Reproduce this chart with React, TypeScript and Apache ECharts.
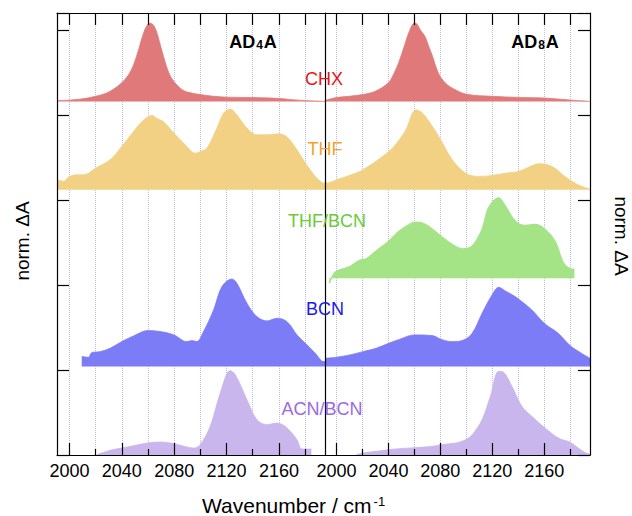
import React, { useEffect, useRef } from "react";
import * as echarts from "echarts";

// ---- data (wavenumber / cm^-1, normalized ΔA above each trace's baseline) ----
const xMajorTicks = [2000, 2040, 2080, 2120, 2160];
const xMinorTicks = [2020, 2060, 2100, 2140, 2180];
const xGridLines = [2000, 2020, 2040, 2060, 2080, 2100, 2120, 2140, 2160, 2180];

const traceNames = ["CHX", "THF", "THF/BCN", "BCN", "ACN/BCN"];
const traceOffsets = [4.16, 3.12, 2.08, 1.04, 0];

// AD4A (left panel)
const chxLeft: [number, number][] = [
  [1990.5, 0.01], [2000, 0.015], [2010, 0.03], [2020, 0.06], [2030, 0.11], [2040, 0.22],
  [2045, 0.31], [2049, 0.43], [2053, 0.62], [2056.5, 0.8], [2059.5, 0.9], [2062, 0.92],
  [2064.5, 0.89], [2067, 0.8], [2070, 0.63], [2074, 0.42], [2077, 0.3], [2080, 0.23],
  [2085, 0.15], [2090, 0.11], [2100, 0.08], [2110, 0.06], [2120, 0.05], [2140, 0.045],
  [2160, 0.035], [2170, 0.02], [2180, 0.01], [2195.5, 0.0],
];
const thfLeft: [number, number][] = [
  [1990.5, 0.12], [1995.4, 0.1], [2000, 0.157], [2005.6, 0.176], [2010.7, 0.176], [2020, 0.255],
  [2031, 0.353], [2040, 0.51], [2049, 0.686], [2056.6, 0.82], [2062.9, 0.875], [2066.8, 0.84],
  [2071.9, 0.8], [2079.8, 0.667], [2089.7, 0.51], [2096.1, 0.43], [2100, 0.45], [2105, 0.49],
  [2112.6, 0.725], [2117.7, 0.9], [2122.8, 0.95], [2127.9, 0.88], [2135.6, 0.725], [2143.2, 0.647],
  [2150.9, 0.647], [2160, 0.66], [2166.2, 0.62], [2173.8, 0.47], [2180.2, 0.314], [2187.8, 0.157],
  [2192.9, 0.086], [2195.5, 0.078],
];
const bcnLeft: [number, number][] = [
  [2009.4, 0.118], [2014.5, 0.11], [2017.1, 0.165], [2023.4, 0.176], [2031.1, 0.216], [2040, 0.294],
  [2048.9, 0.36], [2059.9, 0.424], [2069.3, 0.412], [2079.8, 0.373], [2089.7, 0.294], [2093.5, 0.306],
  [2097.3, 0.294], [2102.4, 0.412], [2110.1, 0.667], [2116.5, 0.941], [2124.1, 1.03], [2127.9, 0.98],
  [2135.6, 0.745], [2143.2, 0.588], [2150.9, 0.537], [2158.5, 0.569], [2166.2, 0.529], [2173.8, 0.373],
  [2180.2, 0.275], [2187.8, 0.157], [2194.2, 0.059], [2195.5, 0.06],
];
const acnLeft: [number, number][] = [
  [2020.9, 0.004], [2031.1, 0.055], [2040, 0.082], [2048.9, 0.11], [2059.9, 0.141], [2069.3, 0.153],
  [2079.8, 0.133], [2089.7, 0.094], [2094.8, 0.082], [2099.9, 0.122], [2107.5, 0.337], [2115.2, 0.729],
  [2122.8, 0.992], [2126.7, 0.945], [2135.6, 0.651], [2143.2, 0.416], [2150.9, 0.357], [2158.5, 0.376],
  [2166.2, 0.318], [2173.8, 0.18], [2177.6, 0.07], [2184.8, 0.07],
];

// AD8A (right panel)
const chxRight: [number, number][] = [
  [1991.2, 0.01], [2000, 0.045], [2010, 0.06], [2020, 0.08], [2030, 0.12], [2040, 0.22],
  [2044, 0.32], [2048, 0.46], [2052, 0.64], [2056, 0.82], [2060, 0.92], [2062, 0.91],
  [2065, 0.83], [2068, 0.77], [2071, 0.65], [2074, 0.53], [2077, 0.39], [2080, 0.29],
  [2085, 0.2], [2090, 0.15], [2100, 0.085], [2120, 0.06], [2140, 0.047], [2160, 0.04],
  [2180, 0.016], [2195.2, 0.0],
];
const thfRight: [number, number][] = [
  [1991.2, 0.078], [1995, 0.086], [2000, 0.118], [2010, 0.169], [2020.4, 0.235], [2040.3, 0.45],
  [2048.4, 0.59], [2053.5, 0.706], [2061.2, 0.941], [2066.3, 0.902], [2073.9, 0.745], [2080.3, 0.588],
  [2089.2, 0.353], [2099.4, 0.196], [2109.6, 0.157], [2119.8, 0.169], [2130, 0.196], [2140.2, 0.216],
  [2150.4, 0.282], [2155.5, 0.306], [2161.8, 0.298], [2168.2, 0.255], [2175.8, 0.157], [2186, 0.059],
  [2195.2, 0.008],
];
const thfBcnRight: [number, number][] = [
  [1994.5, -0.06], [1997.5, 0.04], [2000, 0.08], [2005, 0.11], [2010, 0.133], [2017.8, 0.208],
  [2023, 0.227], [2030.6, 0.318], [2040.3, 0.435], [2048.4, 0.553], [2056, 0.631], [2061.2, 0.659],
  [2068.8, 0.631], [2080.3, 0.494], [2089.2, 0.396], [2096.8, 0.345], [2104.5, 0.376], [2112.1, 0.573],
  [2117.2, 0.827], [2124.9, 0.945], [2130, 0.847], [2137.6, 0.671], [2145.3, 0.62], [2152.9, 0.631],
  [2160.6, 0.573], [2168.2, 0.435], [2174.6, 0.18], [2178.5, 0.122], [2183.2, 0.102],
];
const bcnRight: [number, number][] = [
  [1991.2, 0.098], [2000, 0.11], [2010.2, 0.137], [2020.4, 0.176], [2030.6, 0.216], [2040.3, 0.275],
  [2048.4, 0.32], [2060.1, 0.373], [2073.9, 0.365], [2080.3, 0.322], [2089.2, 0.294], [2096.8, 0.306],
  [2104.5, 0.392], [2112.1, 0.627], [2119.8, 0.843], [2124.9, 0.933], [2130, 0.89], [2137.6, 0.824],
  [2150.4, 0.667], [2160, 0.51], [2170.7, 0.392], [2179.9, 0.247], [2188.6, 0.157], [2195.2, 0.098],
];
const acnRight: [number, number][] = [
  [2015.3, 0.004], [2020.4, 0.024], [2030.6, 0.043], [2040.3, 0.063], [2048.4, 0.075], [2060.1, 0.086],
  [2073.9, 0.102], [2080.3, 0.122], [2091.7, 0.141], [2099.4, 0.18], [2104.5, 0.239], [2112.1, 0.416],
  [2118.5, 0.69], [2124.9, 0.984], [2128.7, 0.973], [2135.1, 0.808], [2142.7, 0.573], [2150.4, 0.455],
  [2160.6, 0.318], [2170.8, 0.2], [2180, 0.149], [2186.1, 0.082], [2191.2, 0.031], [2195.2, 0.008],
];

const FONT = "'Liberation Sans', Arial, Helvetica, sans-serif";
const fillColors: Record<string, string> = {
  CHX: "#e07a7a",
  THF: "#f2d184",
  "THF/BCN": "#a4e487",
  BCN: "#7b7cf6",
  "ACN/BCN": "#c9b6ec",
};
const labelColors: Record<string, string> = {
  CHX: "#e3161b",
  THF: "#f2a42a",
  "THF/BCN": "#6acb35",
  BCN: "#1a1af0",
  "ACN/BCN": "#9b6be0",
};

function makeSeries(name: string, pts: [number, number][], panel: number) {
  const idx = traceNames.indexOf(name);
  const off = traceOffsets[idx];
  const c = fillColors[name];
  return {
    type: "line",
    name,
    xAxisIndex: panel * 3,
    yAxisIndex: panel === 0 ? 0 : 1,
    data: pts.map(([x, h]) => [x, +(off + h).toFixed(4)]),
    symbol: "none",
    showSymbol: false,
    smooth: 0.35,
    lineStyle: { color: c, width: name === "THF/BCN" ? 1.5 : 0.8 },
    areaStyle: { color: c, opacity: 1, origin: off },
    silent: true,
    z: 3,
  };
}

// dotted vertical grid lines, drawn beneath the filled traces
function gridSeries(panel: number) {
  return {
    type: "line",
    xAxisIndex: panel * 3,
    yAxisIndex: panel === 0 ? 0 : 1,
    data: [],
    silent: true,
    z: 1,
    markLine: {
      z: 0,
      silent: true,
      symbol: ["none", "none"],
      label: { show: false },
      lineStyle: { type: "dotted", color: "#bdbdf0", width: 1 },
      data: xGridLines.map((v) => ({ xAxis: v })),
    },
  };
}

const tickFmt = (v: number) => String(Math.round(v));

function xAxes(panel: number, min: number, max: number) {
  const base = {
    gridIndex: panel,
    type: "value",
    min,
    max,
    z: 5,
    splitLine: { show: false },
  };
  return [
    {
      ...base,
      position: "bottom",
      axisLine: { show: true, lineStyle: { color: "#000", width: 1.2 } },
      axisTick: {
        show: true,
        inside: true,
        length: 12,
        customValues: xMajorTicks,
        lineStyle: { color: "#000", width: 1.2 },
      },
      axisLabel: {
        customValues: xMajorTicks,
        formatter: tickFmt,
        fontSize: 18,
        fontFamily: FONT,
        color: "#000",
        margin: 7,
      },
    },
    {
      ...base,
      position: "bottom",
      axisLine: { show: false },
      axisTick: {
        show: true,
        inside: true,
        length: 6,
        customValues: xMinorTicks,
        lineStyle: { color: "#000", width: 1.2 },
      },
      axisLabel: { show: false },
    },
    {
      ...base,
      position: "top",
      axisLine: { show: true, lineStyle: { color: "#000", width: 1.2 } },
      axisTick: {
        show: true,
        inside: true,
        length: 12,
        customValues: xGridLines,
        lineStyle: { color: "#000", width: 1.2 },
      },
      axisLabel: { show: false },
    },
  ];
}

export default function App() {
  const ref = useRef<HTMLDivElement>(null);
  useEffect(() => {
    document.body.style.margin = "0";
    const chart = echarts.init(ref.current!, null, { renderer: "svg" });
    const yBase = {
      type: "value",
      min: 0,
      max: 5.2,
      interval: 1,
      z: 5,
      splitLine: { show: false },
      axisLabel: { show: false },
      axisLine: { show: true, lineStyle: { color: "#000", width: 1.2 } },
      axisTick: { show: true, inside: true, length: 12, lineStyle: { color: "#000", width: 1.2 } },
      nameLocation: "middle",
    };
    const nameStyle = { fontSize: 19, fontFamily: FONT, color: "#000" };
    const option: any = {
      animation: false,
      backgroundColor: "#fff",
      grid: [
        { left: 57, top: 13, width: 268, height: 442 },
        { left: 325, top: 13, width: 267, height: 442 },
      ],
      xAxis: [...xAxes(0, 1990.5, 2195.2), ...xAxes(1, 1991.2, 2195.2)],
      yAxis: [
        {
          ...yBase,
          gridIndex: 0,
          position: "left",
          name: "norm. ΔA",
          nameRotate: 90,
          nameGap: 25,
          nameTextStyle: { ...nameStyle, padding: [0, 14, 0, 0] },
        },
        {
          ...yBase,
          gridIndex: 1,
          position: "right",
          name: "norm. ΔA",
          nameRotate: -90,
          nameGap: 22,
          nameTextStyle: { ...nameStyle, padding: [0, 0, 0, 4] },
        },
        {
          ...yBase,
          gridIndex: 1,
          position: "left",
          name: "",
          axisTick: { show: false },
        },
      ],
      series: [
        gridSeries(0),
        gridSeries(1),
        makeSeries("CHX", chxLeft, 0),
        makeSeries("THF", thfLeft, 0),
        makeSeries("BCN", bcnLeft, 0),
        makeSeries("ACN/BCN", acnLeft, 0),
        makeSeries("CHX", chxRight, 1),
        makeSeries("THF", thfRight, 1),
        makeSeries("THF/BCN", thfBcnRight, 1),
        makeSeries("BCN", bcnRight, 1),
        makeSeries("ACN/BCN", acnRight, 1),
      ],
      graphic: [
        ...[
          { n: "CHX", x: 324, y: 78.5 },
          { n: "THF", x: 325, y: 148.5 },
          { n: "THF/BCN", x: 327, y: 221 },
          { n: "BCN", x: 325, y: 308.5 },
          { n: "ACN/BCN", x: 322, y: 408.5 },
        ].map((l) => ({
          type: "text",
          x: l.x,
          y: l.y,
          z: 10,
          style: {
            text: l.n,
            fill: labelColors[l.n],
            font: `18px ${FONT}`,
            align: "center",
            verticalAlign: "middle",
          },
        })),
        ...[
          { t: "AD{sub|4}A", x: 253 },
          { t: "AD{sub|8}A", x: 535 },
        ].map((l) => ({
          type: "text",
          x: l.x,
          y: 42,
          z: 10,
          style: {
            text: l.t,
            fill: "#000",
            font: `bold 18px ${FONT}`,
            align: "center",
            verticalAlign: "middle",
            rich: {
              sub: { fontSize: 12, fontWeight: "bold", fontFamily: FONT, verticalAlign: "bottom", padding: [0, 1, 0, 1] },
            },
          },
        })),
        {
          type: "text",
          x: 202,
          y: 505,
          z: 10,
          style: {
            text: "Wavenumber / cm{sup|-1}",
            fill: "#000",
            font: `21px ${FONT}`,
            align: "left",
            verticalAlign: "middle",
            rich: {
              sup: { fontSize: 13, fontFamily: FONT, verticalAlign: "top", padding: [0, 0, 0, 2] },
            },
          },
        },
      ],
    };
    chart.setOption(option);
    return () => chart.dispose();
  }, []);
  return (
    <div
      ref={ref}
      style={{ position: "fixed", left: 0, top: 0, width: 632, height: 516, background: "#fff" }}
    />
  );
}
